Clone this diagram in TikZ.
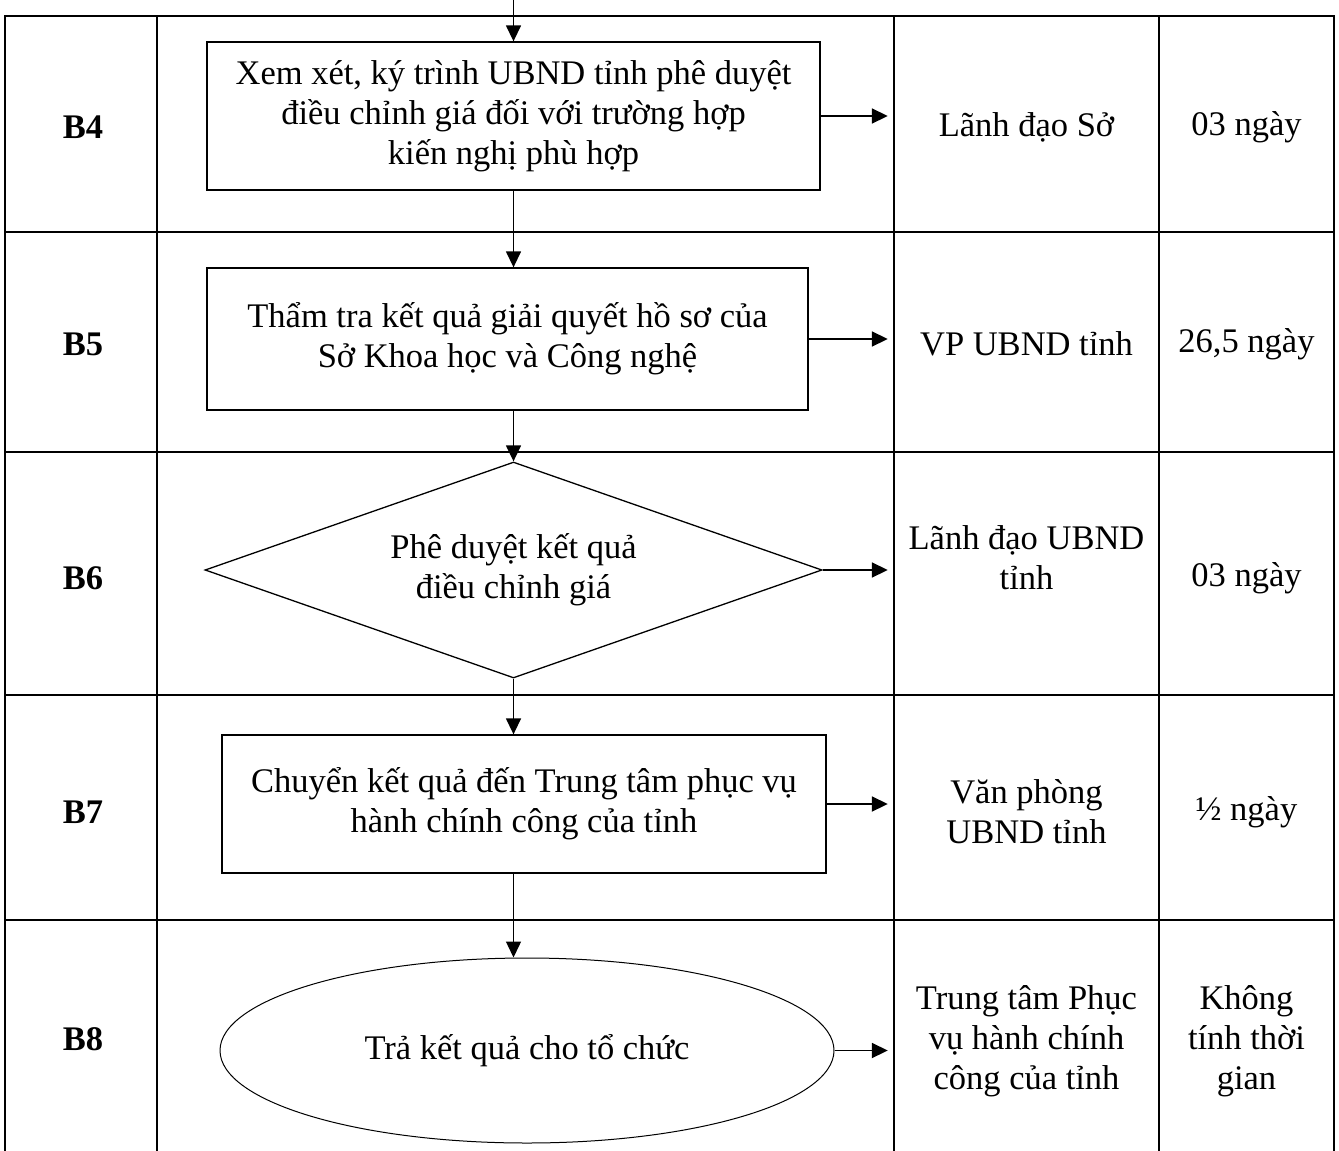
\documentclass[tikz,border=0pt]{standalone}
\usepackage{fontspec}
\setmainfont{Liberation Serif}
\usetikzlibrary{arrows.meta,shapes.geometric}

\begin{document}
\begin{tikzpicture}[x=1pt,y=-1pt,>={Triangle[length=16pt,width=15pt]},
  every node/.style={font=\fontsize{34.5}{40}\selectfont, align=center},
  stepbox/.style={draw, line width=1.3pt, inner sep=0pt},
  cell/.style={inner sep=0pt, minimum width=265pt},
  grid/.style={line width=1.8pt},
  flow/.style={->, line width=1.4pt}]
\useasboundingbox (0,0) rectangle (1339,1151);

% khung bang
\draw[grid] (5,1151) -- (5,16) -- (1334,16) -- (1334,1151);
\foreach \x in {157,894,1159} \draw[grid] (\x,16) -- (\x,1151);
\foreach \y in {232,452,695,920} \draw[grid] (5,\y) -- (1334,\y);

% cot buoc
\node (b_4) at (83,127) {\textbf{B4}};
\node (b_5) at (83,344) {\textbf{B5}};
\node (b_6) at (83,578) {\textbf{B6}};
\node (b_7) at (83,812) {\textbf{B7}};
\node (b_8) at (83,1039) {\textbf{B8}};

% luu do
\coordinate (start) at (513.5,0);
\node[stepbox, minimum width=613pt, minimum height=148pt] (box_4) at (513.5,116)
  {Xem xét, ký trình UBND tỉnh phê duyệt\\điều chỉnh giá đối với trường hợp\\kiến nghị phù hợp\rule[-6pt]{0pt}{0pt}};
\node[stepbox, minimum width=601pt, minimum height=142pt] (box_5) at (507.5,339)
  {Thẩm tra kết quả giải quyết hồ sơ của\\Sở Khoa học và Công nghệ};
\node[stepbox, diamond, aspect=2.86, minimum width=617pt, minimum height=216pt] (dia_6) at (513.5,570)
  {Phê duyệt kết quả\\điều chỉnh giá};
\node[stepbox, minimum width=604pt, minimum height=138pt] (box_7) at (524,804)
  {Chuyển kết quả đến Trung tâm phục vụ\\hành chính công của tỉnh};
\node[stepbox, ellipse, line width=1pt, minimum width=614pt, minimum height=185pt] (ell_8) at (527,1050.5)
  {Trả kết quả cho tổ chức};

% cot thuc hien
\node[cell] (who_4) at (1026.5,127) {Lãnh đạo Sở};
\node[cell] (who_5) at (1026.5,344) {VP UBND tỉnh};
\node[cell] (who_6) at (1026.5,558) {Lãnh đạo UBND\\tỉnh};
\node[cell] (who_7) at (1026.5,812) {Văn phòng\\UBND tỉnh};
\node[cell] (who_8) at (1026.5,1041) {Trung tâm Phục\\vụ hành chính\\công của tỉnh};

% cot thoi gian
\node[cell, minimum width=175pt] (time_4) at (1246.5,127) {03 ngày};
\node[cell, minimum width=175pt] (time_5) at (1246.5,344) {26,5 ngày};
\node[cell, minimum width=175pt] (time_6) at (1246.5,578) {03 ngày};
\node[cell, minimum width=175pt] (time_7) at (1246.5,812) {½ ngày};
\node[cell, minimum width=175pt] (time_8) at (1246.5,1041) {Không\\tính thời\\gian};

% mui ten
\draw[flow] (start) -- (box_4.north);
\draw[flow] (box_4.south) -- (box_4.south |- box_5.north);
\draw[flow] (dia_6.north |- box_5.south) -- (dia_6.north);
\draw[flow] (dia_6.south) -- (dia_6.south |- box_7.north);
\draw[flow] (dia_6.south |- box_7.south) -- (dia_6.south |- ell_8.north);
\foreach \s/\w in {box_4/who_4, box_5/who_5, dia_6/who_6, box_7/who_7, ell_8/who_8}
  \draw[flow, line width=1.8pt, shorten >=6pt] (\s.east) -- (\s.east -| \w.west);
\end{tikzpicture}
\end{document}
